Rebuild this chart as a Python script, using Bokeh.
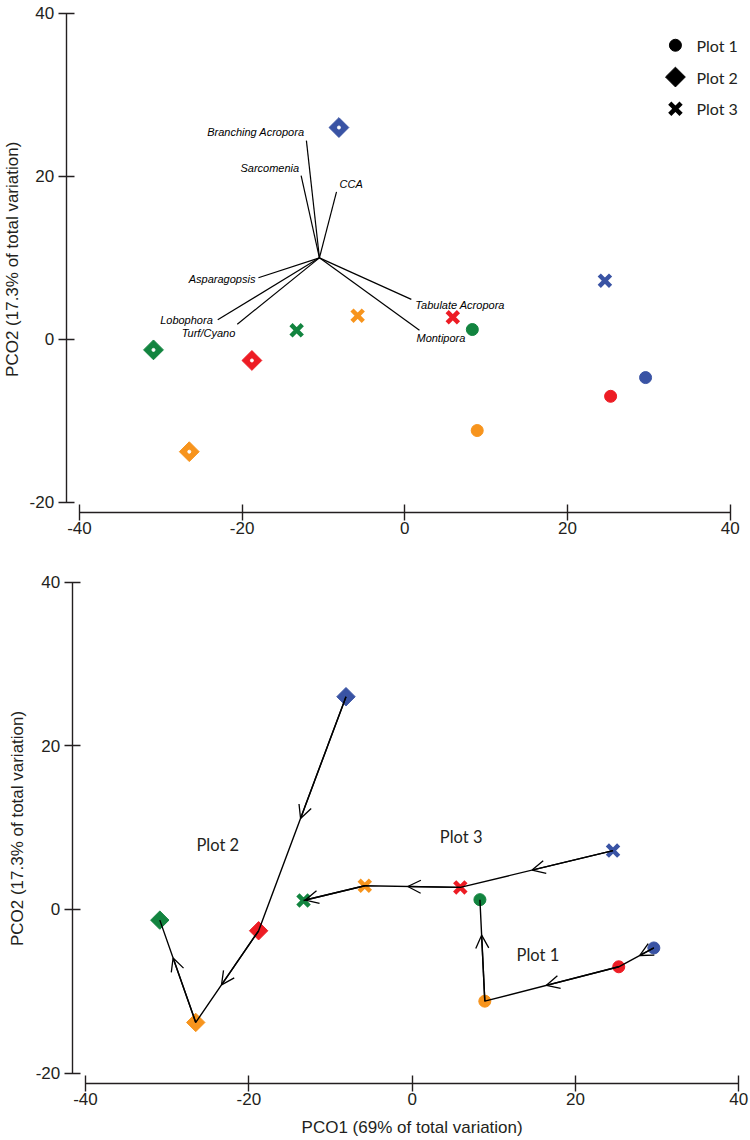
import math
from bokeh.plotting import figure
from bokeh.models import (ColumnDataSource, FixedTicker, Arrow, OpenHead,
                          LinearAxis, Range1d, Label)
from bokeh.layouts import column
from bokeh.embed import file_html
from bokeh.resources import INLINE
from bokeh.core.properties import value

# ---------------- data ----------------
survey_colors = ["#3953a4", "#ed1c24", "#f7941d", "#12843f"]   # survey 1 -> 4
plot_names = ["Plot 1", "Plot 2", "Plot 3"]

plot1_pco1 = [29.6, 25.3, 8.9, 8.3]
plot1_pco2 = [-4.7, -7.0, -11.2, 1.2]
plot2_pco1 = [-8.1, -18.8, -26.5, -30.9]
plot2_pco2 = [26.0, -2.6, -13.8, -1.3]
plot3_pco1 = [24.6, 5.9, -5.8, -13.3]
plot3_pco2 = [7.2, 2.7, 2.9, 1.1]

species = ["Branching Acropora", "Sarcomenia", "CCA", "Asparagopsis",
           "Lobophora", "Turf/Cyano", "Tabulate Acropora", "Montipora"]
vector_origin = (-10.5, 10.0)
vector_pco1 = [-12.1, -12.75, -8.4, -18.0, -23.0, -20.6, 0.8, 1.8]
vector_pco2 = [24.4, 20.1, 18.1, 7.55, 2.4, 1.85, 4.9, 1.1]

x_ticks = [-40, -20, 0, 20, 40]
y_ticks = [-20, 0, 20, 40]
x_title = "PCO1 (69% of total variation)"
y_title = "PCO2 (17.3% of total variation)"

# ---------------- style / layout ----------------
AX = "#231f20"
# species label placement: (align, dx px, dy px)
species_label_style = [("right", -2, -9), ("right", -2, -8), ("left", 3, -8),
                       ("right", -3, 1), ("right", -5, 0), ("right", -2, 9),
                       ("left", 4, 6), ("left", -3, 8)]
# where the arrow head sits along each step (fraction of the step)
arrow_frac = [[0.4, 0.54, 0.65], [0.52, 0.59, 0.63], [0.53, 0.55, 0.97]]
traj_label_pos = [(15.4, -5.6), (-23.8, 7.9), (6.0, 8.9)]
# legend anchor (data units of top panel) and step between entries
legend_x, legend_y0, legend_dy = 33.27, 36.1, -3.9

groups = [(plot1_pco1, plot1_pco2), (plot2_pco1, plot2_pco2), (plot3_pco1, plot3_pco2)]
hyphen_labels = {t: str(t) for t in set(x_ticks + y_ticks)}


def make_fig(height, xr, yr, y_axis_at, x_axis_at):
    p = figure(width=750, height=height,
               x_range=Range1d(*xr), y_range=Range1d(*yr),
               x_axis_type=None, y_axis_type=None,
               output_backend="svg", toolbar_location=None,
               min_border_left=0, min_border_right=0,
               min_border_top=0, min_border_bottom=0,
               background_fill_color="white", border_fill_color="white")
    p.outline_line_color = None
    xa = LinearAxis(bounds=(x_ticks[0], x_ticks[-1]), ticker=FixedTicker(ticks=x_ticks),
                    fixed_location=x_axis_at)
    ya = LinearAxis(bounds=(y_ticks[0], y_ticks[-1]), ticker=FixedTicker(ticks=y_ticks),
                    fixed_location=y_axis_at)
    for a in (xa, ya):
        a.axis_line_color = AX
        a.axis_line_width = 1.4
        a.major_tick_line_color = AX
        a.major_tick_line_width = 1.4
        a.major_tick_in = 8
        a.major_tick_out = 8
        a.minor_tick_line_color = None
        a.major_label_text_font = "Liberation Sans"
        a.major_label_text_font_size = "17px"
        a.major_label_text_color = AX
        a.major_label_overrides = hyphen_labels
    xa.major_label_standoff = 2
    ya.major_label_standoff = 4
    p.add_layout(xa, "below")
    p.add_layout(ya, "left")
    return p


def add_title(p, text, x, y, angle):
    p.add_layout(Label(x=x, y=y, text=text, angle=angle, text_align="center",
                       text_baseline="middle", text_font="Liberation Sans",
                       text_font_size="17px", text_color=AX))


def marker_kinds(diamond_size):
    return [dict(marker="circle", size=12),
            dict(marker="square", size=diamond_size, angle=math.pi / 4),
            dict(marker="x", size=16, line_width=4.5)]


def draw_markers(p, diamond_size, dots):
    for (gx, gy), kw in zip(groups, marker_kinds(diamond_size)):
        src = ColumnDataSource(dict(x=gx, y=gy, c=survey_colors))
        p.scatter("x", "y", source=src, fill_color="c", line_color="c", **kw)
    if dots:
        p.scatter(plot2_pco1, plot2_pco2, size=3, color="white")


# ---------------- top panel: PCO with vectors ----------------
top = make_fig(545, (-49.71, 42.5), (-25.317, 41.596), -41.635, -21.228)
add_title(top, y_title, -48.24, 9.82, math.pi / 2)

ox, oy = vector_origin
top.segment(x0=[ox] * len(species), y0=[oy] * len(species), x1=vector_pco1, y1=vector_pco2,
            line_color="black", line_width=1.2)
for align in ("left", "right"):
    idx = [i for i, s in enumerate(species_label_style) if s[0] == align]
    src = ColumnDataSource(dict(x=[vector_pco1[i] for i in idx], y=[vector_pco2[i] for i in idx],
                                t=[species[i] for i in idx],
                                dx=[species_label_style[i][1] for i in idx],
                                dy=[species_label_style[i][2] for i in idx]))
    top.text("x", "y", text="t", source=src, x_offset="dx", y_offset="dy",
             text_align=align, text_baseline="middle", text_font=value("Liberation Sans"),
             text_font_style="italic", text_font_size="11px", text_color="black")

draw_markers(top, 14, True)

# legend: black symbol + name for each plot
for k, (name, kw) in enumerate(zip(plot_names, marker_kinds(14))):
    ly = legend_y0 + k * legend_dy
    top.scatter([legend_x], [ly], color="black", **kw)
    top.text([legend_x], [ly], text=[name], x_offset=21, text_align="left",
             text_baseline="middle", text_font=value("Lato"), text_font_size="16px",
             text_color=AX)

# ---------------- bottom panel: trajectories ----------------
bot = make_fig(593, (-50.409, 41.435), (-27.98, 44.472), -41.629, -21.222)
add_title(bot, y_title, -48.29, 9.9, math.pi / 2)
add_title(bot, x_title, 0, -26.63, 0)
draw_markers(bot, 13, False)

xs, ys, xe, ye = [], [], [], []
for (gx, gy), fr in zip(groups, arrow_frac):
    bot.line(gx, gy, line_color="black", line_width=1.4)
    for i in range(len(gx) - 1):
        xs.append(gx[i]); ys.append(gy[i])
        xe.append(gx[i] + fr[i] * (gx[i + 1] - gx[i]))
        ye.append(gy[i] + fr[i] * (gy[i + 1] - gy[i]))
arr_src = ColumnDataSource(dict(xs=xs, ys=ys, xe=xe, ye=ye))
bot.add_layout(Arrow(end=OpenHead(size=13, line_width=1.3, line_color="black"),
                     x_start="xs", y_start="ys", x_end="xe", y_end="ye", source=arr_src,
                     line_color="black", line_width=1.4))

bot.text(x=[p[0] for p in traj_label_pos], y=[p[1] for p in traj_label_pos], text=plot_names,
         text_align="center", text_baseline="middle", text_font=value("Lato"),
         text_font_size="16.5px", text_color=AX)

layout = column(top, bot)
open("out.html", "w").write(file_html(layout, INLINE))
